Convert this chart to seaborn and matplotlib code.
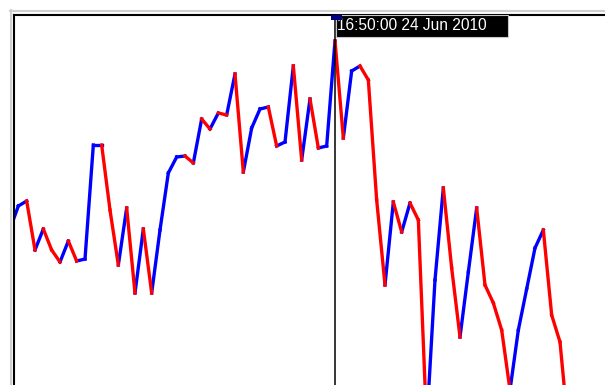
import pandas as pd
import matplotlib
matplotlib.use("Agg")
import matplotlib.pyplot as plt
from matplotlib.patches import Rectangle
from matplotlib.lines import Line2D
import seaborn as sns

# bar index and closing level (arbitrary price units)
bars = list(range(68))
closes = [
    171, 194, 199, 150, 171, 150, 138, 159, 139, 141,
    255, 255, 190, 135, 192, 107, 171, 107, 170, 227,
    243, 244, 237, 281, 271, 287, 285, 326, 228, 272,
    291, 293, 254, 258, 334, 240, 301, 252, 254, 359,
    262, 329, 334, 320, 200, 115, 198, 168, 197, 180,
    -25, 120, 212, 132, 63, 128, 192, 115, 97, 70,
    10, 70, 111, 152, 170, 85, 58, -30,
]
cursor_bar = 39
cursor_label = "16:50:00 24 Jun 2010"

# one two-point segment per step, coloured by direction
rows = []
for i in range(len(bars) - 1):
    direction = "up" if closes[i + 1] >= closes[i] else "down"
    rows.append({"seg": i, "bar": bars[i], "close": closes[i], "dir": direction})
    rows.append({"seg": i, "bar": bars[i + 1], "close": closes[i + 1], "dir": direction})
segments = pd.DataFrame(rows)

W, H = 605, 385
fig = plt.figure(figsize=(W / 100, H / 100), dpi=100)
fig.patch.set_facecolor("white")

left_px, top_px = 14, 15
ax = fig.add_axes([left_px / W, 0, 1 - left_px / W, 1 - top_px / H])

sns.lineplot(
    data=segments,
    x="bar",
    y="close",
    hue="dir",
    units="seg",
    estimator=None,
    palette={"up": "#0000ff", "down": "#ff0000"},
    linewidth=2.4,
    legend=False,
    ax=ax,
)

ax.set_xlim(0.48, 71.4)
ax.set_ylim(15, 385)
ax.set_xticks([])
ax.set_yticks([])
ax.set_xlabel("")
ax.set_ylabel("")
for side in ["right", "bottom"]:
    ax.spines[side].set_visible(False)
for side in ["left", "top"]:
    ax.spines[side].set_linewidth(1.5)
    ax.spines[side].set_color("black")

# crosshair
ax.axvline(cursor_bar, color="black", linewidth=1.1, zorder=5)

# light grey outer frame
fig.add_artist(Line2D([10 / W, 1], [1 - 11 / H, 1 - 11 / H], color="#d0d0d0", linewidth=1.5))
fig.add_artist(Line2D([11 / W, 11 / W], [0, 1 - 10 / H], color="#d0d0d0", linewidth=1.5))

# time label box at top of crosshair
fig.add_artist(Rectangle((336 / W, 1 - 37 / H), 172 / W, 22 / H,
                         facecolor="black", edgecolor="#c8c8c8", linewidth=0.8, zorder=6))
fig.text(337 / W, 1 - 26 / H, cursor_label, color="white", fontsize=11.2,
         family="Liberation Sans", va="center", ha="left", zorder=7)
fig.add_artist(Rectangle((331 / W, 1 - 20 / H), 11 / W, 5 / H,
                         facecolor="#000080", edgecolor="none", zorder=8))

fig.savefig("out.png", dpi=100)
